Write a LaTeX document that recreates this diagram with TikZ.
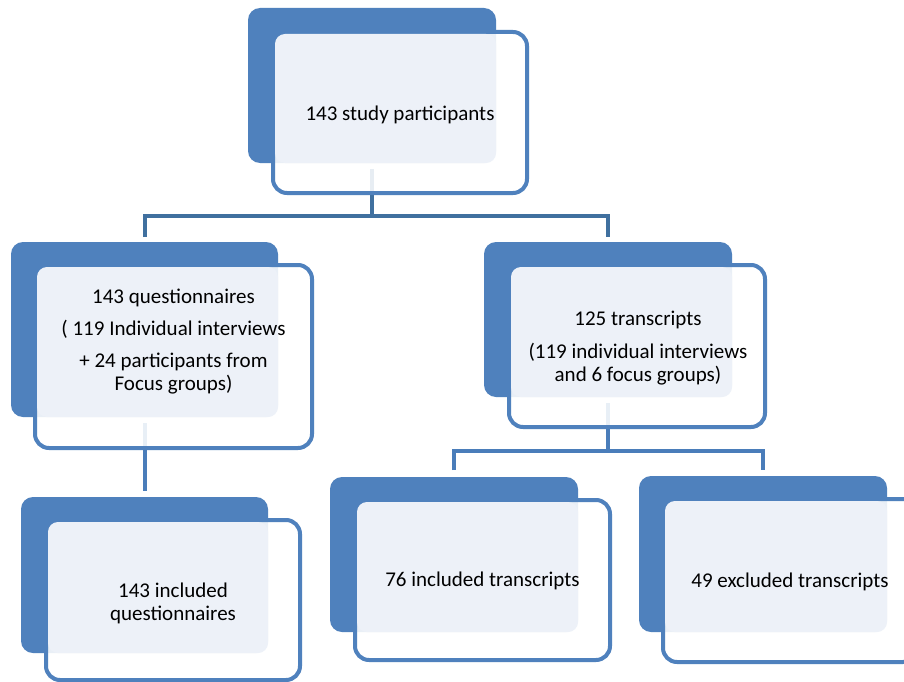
\documentclass[tikz,border=0pt]{standalone}
\usepackage{fontspec}
\setmainfont{Carlito}
\definecolor{boxblue}{HTML}{4F81BD}
\definecolor{lightfill}{HTML}{EDF1F8}
\definecolor{topline}{HTML}{40709F}
\definecolor{lowline}{HTML}{4A7DBA}
\begin{document}
\begin{tikzpicture}[x=1pt,y=-1pt,
  backbox/.style={fill=boxblue, draw=none, rounded corners=12pt, inner sep=0pt, outer sep=0pt},
  frontbox/.style={draw=boxblue, line width=4pt, fill=white, fill opacity=0.88, rounded corners=14pt, inner sep=0pt, outer sep=0pt},
  lightbox/.style={fill=lightfill, rounded corners=10pt},
  conntop/.style={draw=topline, line width=4pt},
  connlow/.style={draw=lowline, line width=4pt},
  lbl/.style={font=\fontsize{21}{23}\selectfont, align=center, text=black, inner sep=0pt}]
\clip (0,0) rectangle (904,682);
\fill[white] (0,0) rectangle (904,682);
% back boxes
\node[backbox, minimum width=248pt, minimum height=155pt] (topB) at (372,85.5) {};
\node[backbox, minimum width=267pt, minimum height=175pt] (lmB) at (144.5,329.5) {};
\node[backbox, minimum width=248pt, minimum height=155pt] (rmB) at (608,319.5) {};
\node[backbox, minimum width=247pt, minimum height=156pt] (blB) at (144.5,575) {};
\node[backbox, minimum width=248pt, minimum height=155pt] (bmB) at (454,554.5) {};
\node[backbox, minimum width=248pt, minimum height=156pt] (brB) at (763,554) {};
% connectors
\coordinate (bus1) at (372,216);
\coordinate (bus2) at (608,451);
\draw[conntop] ([yshift=-6pt]topB.south) -- (bus1);
\draw[conntop] ([yshift=5pt]lmB.north) |- (bus1) -| ([yshift=5pt]rmB.north);
\draw[connlow] ([yshift=-6pt]lmB.south) -- ([yshift=6pt]blB.north);
\draw[connlow] ([yshift=-6pt]rmB.south) -- (bus2);
\draw[connlow] ([yshift=7pt]bmB.north) |- (bus2) -| ([yshift=6pt]brB.north);
% front boxes
\node[frontbox, minimum width=254pt, minimum height=161pt] (topF) at (400,112.5) {};
\node[frontbox, minimum width=277pt, minimum height=183pt] (lmF) at (173.5,356.5) {};
\node[frontbox, minimum width=256pt, minimum height=162pt] (rmF) at (637,346) {};
\node[frontbox, minimum width=254pt, minimum height=160pt] (blF) at (173,600) {};
\node[frontbox, minimum width=255pt, minimum height=160pt] (bmF) at (482.5,580) {};
\node[frontbox, minimum width=254pt, minimum height=163pt] (brF) at (790,580.5) {};
% light overlap areas
\fill[lightbox] ([shift={(2pt,-2pt)}]topF.north west) rectangle (topB.south east);
\fill[lightbox] ([shift={(2pt,-2pt)}]lmF.north west) rectangle (lmB.south east);
\fill[lightbox] ([shift={(2pt,-2pt)}]rmF.north west) rectangle (rmB.south east);
\fill[lightbox] ([shift={(2pt,-2pt)}]blF.north west) rectangle (blB.south east);
\fill[lightbox] ([shift={(2pt,-2pt)}]bmF.north west) rectangle (bmB.south east);
\fill[lightbox] ([shift={(2pt,-2pt)}]brF.north west) rectangle (brB.south east);
% texts
\node[lbl] (topT) at (400,115) {143 study participants};
\node[lbl] (lmT) at (173.5,342) {143 questionnaires\\[9pt]( 119 Individual interviews\\[9pt]+ 24 participants from\\Focus groups)};
\node[lbl] (rmT) at (638,348.5) {125 transcripts\\[10pt](119 individual interviews\\and 6 focus groups)};
\node[lbl] (blT) at (173,603) {143 included\\questionnaires};
\node[lbl] (bmT) at (482.5,581) {76 included transcripts};
\node[lbl] (brT) at (790,582) {49 excluded transcripts};
\end{tikzpicture}
\end{document}
